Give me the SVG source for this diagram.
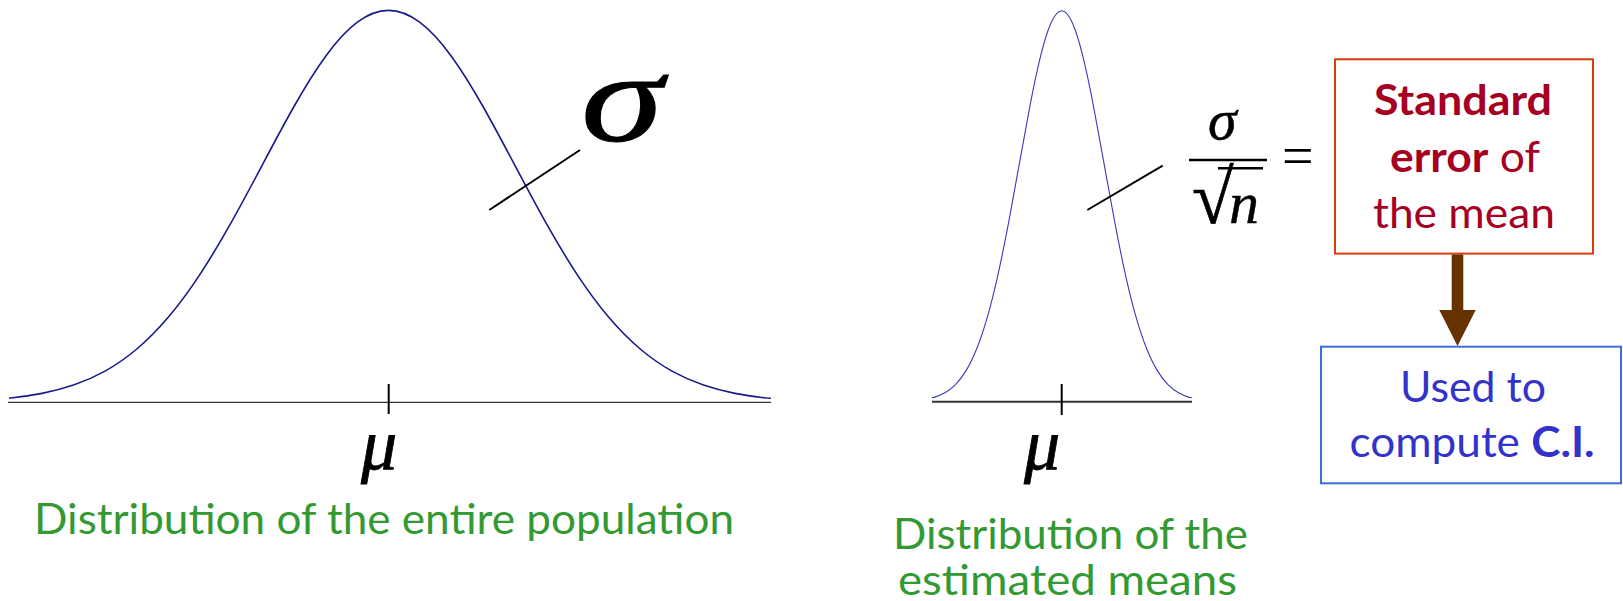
<svg xmlns="http://www.w3.org/2000/svg" width="1623" height="601" viewBox="0 0 1623 601">
<style>
.axis{stroke:#333;fill:none}
.tick{stroke:#000;stroke-width:2}
.green{font-family:Lato,"Open Sans",sans-serif;font-size:42px;fill:#339933}
.box{font-family:Lato,"Open Sans",sans-serif;font-size:42px}
.red{fill:#a50021}
.blue{fill:#3333cc}
.b{font-weight:bold}
</style>
<rect width="1623" height="601" fill="#fff"/>
<g id="population">
<line class="axis" x1="8" y1="402.3" x2="771" y2="402.3" stroke-width="1.3"/>
<path fill="none" stroke="#1a1a8c" stroke-width="1.6" d="M9,398.3 L10.5,397.95 C21,396.86 31.5,395.42 42,393.37 C52.5,391.32 63,388.67 73.5,385.08 C84,381.49 94.5,376.97 105,371.12 C115.5,365.27 126,358.10 136.5,349.26 C147,340.42 157.5,329.90 168,317.54 C178.5,305.18 189,290.97 199.5,275.07 C210,259.17 220.5,241.57 231,222.88 C241.5,204.19 252,184.41 262.5,164.60 C273,144.79 283.5,124.97 294,106.48 C304.5,87.99 315,70.86 325.5,56.45 C336,42.04 346.5,30.37 357,22.46 C367.5,14.55 378,10.4 388.5,10.4 C399,10.4 409.5,14.55 420,22.46 C430.5,30.37 441,42.04 451.5,56.45 C462,70.86 472.5,87.99 483,106.48 C493.5,124.97 504,144.79 514.5,164.60 C525,184.41 535.5,204.19 546,222.88 C556.5,241.57 567,259.17 577.5,275.07 C588,290.97 598.5,305.18 609,317.54 C619.5,329.90 630,340.42 640.5,349.26 C651,358.10 661.5,365.27 672,371.12 C682.5,376.97 693,381.49 703.5,385.08 C714,388.67 724.5,391.32 735,393.37 C745.5,395.42 756,396.86 766.5,397.95 L771,398.3"/>
<line class="tick" x1="388.7" y1="384" x2="388.7" y2="414"/>
<line stroke="#000" stroke-width="2" x1="489.3" y1="210" x2="580" y2="150"/>
<text x="0" y="0" transform="translate(581,141) scale(1.3,1)" font-family="'Liberation Serif', serif" font-style="italic" font-size="128" stroke="#000" stroke-width="0.9">σ</text>
<text x="361" y="469" font-family="'Liberation Serif', serif" font-style="italic" font-size="72" stroke="#000" stroke-width="0.8">μ</text>
<text class="green" x="34" y="534" textLength="700" lengthAdjust="spacingAndGlyphs">Distribution of the entire population</text>
</g>
<g id="means">
<line class="axis" x1="932" y1="401.7" x2="1192" y2="401.7" stroke="#222" stroke-width="2"/>
<path fill="none" stroke="#3a3ab8" stroke-width="1.1" d="M932,397.6 L934.2,397.36 C937.74,396.27 941.29,394.83 944.83,392.79 C948.37,390.75 951.91,388.10 955.45,384.52 C958.99,380.94 962.54,376.42 966.08,370.59 C969.62,364.76 973.16,357.60 976.7,348.78 C980.24,339.96 983.79,329.47 987.33,317.14 C990.87,304.81 994.41,290.63 997.95,274.76 C1001.49,258.89 1005.04,241.33 1008.58,222.69 C1012.12,204.05 1015.66,184.31 1019.2,164.55 C1022.74,144.79 1026.29,125.00 1029.83,106.56 C1033.37,88.12 1036.91,71.02 1040.45,56.64 C1043.99,42.26 1047.54,30.62 1051.08,22.73 C1054.62,14.84 1058.16,10.7 1061.7,10.7 C1065.24,10.7 1068.79,14.84 1072.33,22.73 C1075.86,30.62 1079.41,42.26 1082.95,56.64 C1086.49,71.02 1090.03,88.12 1093.58,106.56 C1097.11,125.00 1100.66,144.79 1104.2,164.55 C1107.74,184.31 1111.28,204.05 1114.83,222.69 C1118.36,241.33 1121.91,258.89 1125.45,274.76 C1128.99,290.63 1132.53,304.81 1136.08,317.14 C1139.61,329.47 1143.16,339.96 1146.7,348.78 C1150.24,357.60 1153.78,364.76 1157.33,370.59 C1160.86,376.42 1164.41,380.94 1167.95,384.52 C1171.49,388.10 1175.03,390.75 1178.58,392.79 C1182.11,394.83 1185.66,396.27 1189.2,397.36 L1191.7,397.6"/>
<line class="tick" x1="1061.7" y1="384" x2="1061.7" y2="415"/>
<line stroke="#000" stroke-width="2" x1="1087.3" y1="210" x2="1162.7" y2="165.7"/>
<text x="1024" y="469" font-family="'Liberation Serif', serif" font-style="italic" font-size="72" stroke="#000" stroke-width="0.8">μ</text>
<text class="green" x="893" y="549" textLength="355" lengthAdjust="spacingAndGlyphs">Distribution of the</text>
<text class="green" x="898" y="595" textLength="339" lengthAdjust="spacingAndGlyphs">estimated means</text>
</g>
<g id="formula">
<text x="1208" y="139" font-family="'Liberation Serif', serif" font-style="italic" font-size="58" stroke="#000" stroke-width="0.5">σ</text>
<line stroke="#000" stroke-width="2.5" x1="1189" y1="160" x2="1267" y2="160"/>
<text x="1192" y="223" font-family="'Liberation Serif', serif" font-size="76" stroke="#000" stroke-width="0.6">√<tspan x="1229" font-style="italic" font-size="60" stroke-width="0.4">n</tspan></text>
<line stroke="#000" stroke-width="2.6" x1="1218" y1="168.3" x2="1263" y2="168.3"/>
<text x="1282" y="175" font-family="'Liberation Serif', serif" font-size="56">=</text>
</g>
<g id="standard-error">
<rect x="1335" y="59.3" width="258" height="194.3" fill="#fff" stroke="#d93b12" stroke-width="2"/>
<text class="box red b" x="1374" y="115" textLength="178" lengthAdjust="spacingAndGlyphs">Standard</text>
<text class="box red" x="1390" y="172" textLength="150" lengthAdjust="spacingAndGlyphs"><tspan class="b">error</tspan> of</text>
<text class="box red" x="1373" y="228" textLength="182" lengthAdjust="spacingAndGlyphs">the mean</text>
</g>
<g id="ci">
<rect x="1321" y="346.7" width="300" height="136.6" fill="#fff" stroke="#3c6fd6" stroke-width="2"/>
<text class="box blue" x="1400" y="401.7" textLength="146" lengthAdjust="spacingAndGlyphs">Used to</text>
<text class="box blue" x="1349.5" y="456.7" textLength="245" lengthAdjust="spacingAndGlyphs">compute <tspan class="b">C.I.</tspan></text>
</g>
<g id="connectors">
<polygon fill="#663300" points="1451.7,254.5 1463.3,254.5 1463.3,310 1475.7,310 1457.5,346 1439.3,310 1451.7,310"/>
</g>
</svg>
